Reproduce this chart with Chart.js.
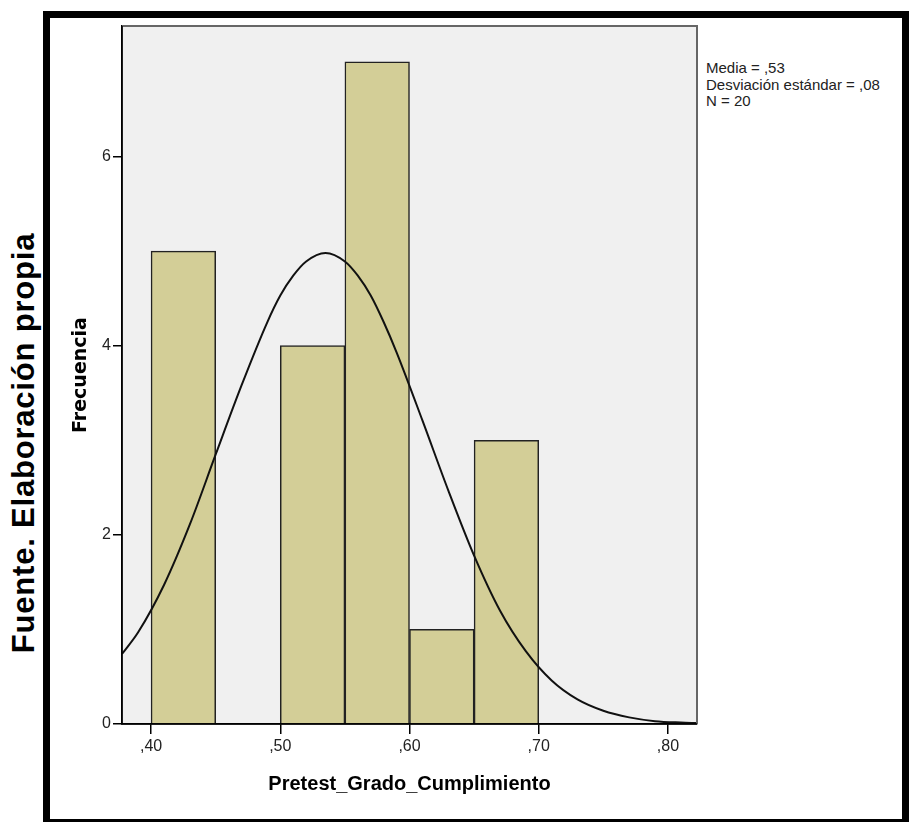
<!DOCTYPE html>
<html lang="es">
  <head>
    <meta charset="UTF-8" />
    <title>Pretest_Grado_Cumplimiento</title>
    <script src="https://cdn.jsdelivr.net/npm/chart.js"></script>
    <style>
      body { margin: 0; background: #fff; }
      #frame {
        position: absolute; left: 43px; top: 11px;
        width: 852px; height: 801px;
        border: 7px solid #000;
      }
      #fuente {
        position: absolute; left: 23px; top: 443px;
        transform: translate(-50%, -50%) rotate(-90deg);
        font: bold 31px 'Liberation Sans', Arial, sans-serif;
        letter-spacing: 0.8px; line-height: 1; white-space: nowrap; color: #000;
      }
      #stats {
        position: absolute; left: 706px; top: 60px;
        font: 15px 'Liberation Sans', Arial, sans-serif;
        line-height: 16.5px; color: #222; white-space: nowrap;
      }
      #wrap { position: absolute; left: 0; top: 0; width: 911px; height: 822px; }
    </style>
  </head>
  <body>
    <div id="frame"></div>
    <div id="fuente">Fuente. Elaboración propia</div>
    <div id="stats">Media = ,53<br />Desviación estándar = ,08<br />N = 20</div>
    <div id="wrap"><canvas id="hist"></canvas></div>

    <script>
      // histogram bins (start of each bin) and counts
      const binStart = [0.40, 0.45, 0.50, 0.55, 0.60, 0.65]
      const counts = [5, 0, 4, 7, 1, 3]
      const binWidth = 0.05

      // normal curve
      const curveX = [0.3775, 0.39, 0.41, 0.43, 0.45, 0.47, 0.49, 0.50, 0.51, 0.52, 0.535, 0.55,
        0.56, 0.57, 0.58, 0.59, 0.61, 0.63, 0.65, 0.67, 0.69, 0.71, 0.73, 0.75, 0.77, 0.79, 0.81, 0.8225]
      const curveY = [0.74, 0.97, 1.47, 2.11, 2.85, 3.58, 4.25, 4.53, 4.74, 4.89, 4.98, 4.89,
        4.74, 4.53, 4.25, 3.93, 3.21, 2.47, 1.78, 1.20, 0.77, 0.46, 0.26, 0.14, 0.07, 0.03, 0.015, 0.01]

      const xTicks = [0.4, 0.5, 0.6, 0.7, 0.8]
      const yTicks = [0, 2, 4, 6]

      const tickFont = { family: "'Liberation Sans Narrow', 'Arial Narrow', 'Liberation Sans', sans-serif", size: 16 }

      // gray plot background + frame
      const plotBox = {
        id: 'plotBox',
        beforeDraw(chart) {
          const a = chart.chartArea, ctx = chart.ctx
          ctx.save()
          ctx.fillStyle = '#f0f0f0'
          ctx.fillRect(a.left, a.top, a.width, a.height)
          ctx.restore()
        },
        afterDatasetsDraw(chart) {
          const a = chart.chartArea, ctx = chart.ctx
          ctx.save()
          ctx.strokeStyle = '#666'
          ctx.lineWidth = 2
          ctx.beginPath()
          ctx.moveTo(a.left, a.top)
          ctx.lineTo(a.right, a.top)
          ctx.lineTo(a.right, a.bottom)
          ctx.stroke()
          ctx.strokeStyle = '#000'
          ctx.lineWidth = 1.5
          ctx.beginPath()
          ctx.moveTo(a.left, a.top)
          ctx.lineTo(a.left, a.bottom)
          ctx.lineTo(a.right, a.bottom)
          ctx.stroke()
          ctx.restore()
        },
      }

      new Chart(document.getElementById('hist'), {
        type: 'bar',
        data: {
          datasets: [
            {
              type: 'line',
              data: curveX.map((x, i) => ({ x: x, y: curveY[i] })),
              borderColor: '#111',
              borderWidth: 2,
              pointRadius: 0,
              cubicInterpolationMode: 'monotone',
              order: 0,
            },
            {
              data: binStart.map((b, i) => ({ x: b + binWidth / 2, y: counts[i] })),
              backgroundColor: '#d3ce97',
              borderColor: '#222',
              borderWidth: 1.5,
              barPercentage: 1,
              categoryPercentage: 1,
              order: 1,
            },
          ],
        },
        options: {
          responsive: true,
          maintainAspectRatio: false,
          animation: false,
          layout: { padding: { left: 58, right: 214, top: 26, bottom: 20 } },
          plugins: { legend: { display: false }, tooltip: { enabled: false } },
          scales: {
            x: {
              type: 'linear',
              offset: false,
              min: 0.3775,
              max: 0.8225,
              afterBuildTicks: (s) => { s.ticks = xTicks.map((v) => ({ value: v })) },
              afterFit: (s) => { s.height = 78 },
              grid: { offset: false, drawOnChartArea: false, drawTicks: true, tickLength: 10, color: '#000', lineWidth: 1.5 },
              border: { display: true, color: '#000', width: 1.5 },
              ticks: {
                font: tickFont, color: '#222', padding: 3, maxRotation: 0,
                callback: (v) => v.toFixed(2).replace('0.', ','),
              },
              title: {
                display: true,
                text: 'Pretest_Grado_Cumplimiento',
                color: '#000',
                font: { family: "'Liberation Sans', Arial, sans-serif", size: 20, weight: 'bold', lineHeight: 1 },
                padding: { top: 0, bottom: 8 },
              },
            },
            y: {
              min: 0,
              max: 7.38,
              afterBuildTicks: (s) => { s.ticks = yTicks.map((v) => ({ value: v })) },
              afterFit: (s) => { s.width = 64 },
              grid: { drawOnChartArea: false, drawTicks: true, tickLength: 9, color: '#000', lineWidth: 1.5 },
              border: { display: true, color: '#000', width: 1.5 },
              ticks: { font: tickFont, color: '#222', padding: 2 },
              title: {
                display: true,
                text: 'Frecuencia',
                color: '#000',
                font: { family: "'DejaVu Sans', sans-serif", size: 19, weight: 'bold', lineHeight: 1 },
                padding: { top: 14, bottom: 0 },
              },
            },
          },
        },
        plugins: [plotBox],
      })
    </script>
  </body>
</html>
